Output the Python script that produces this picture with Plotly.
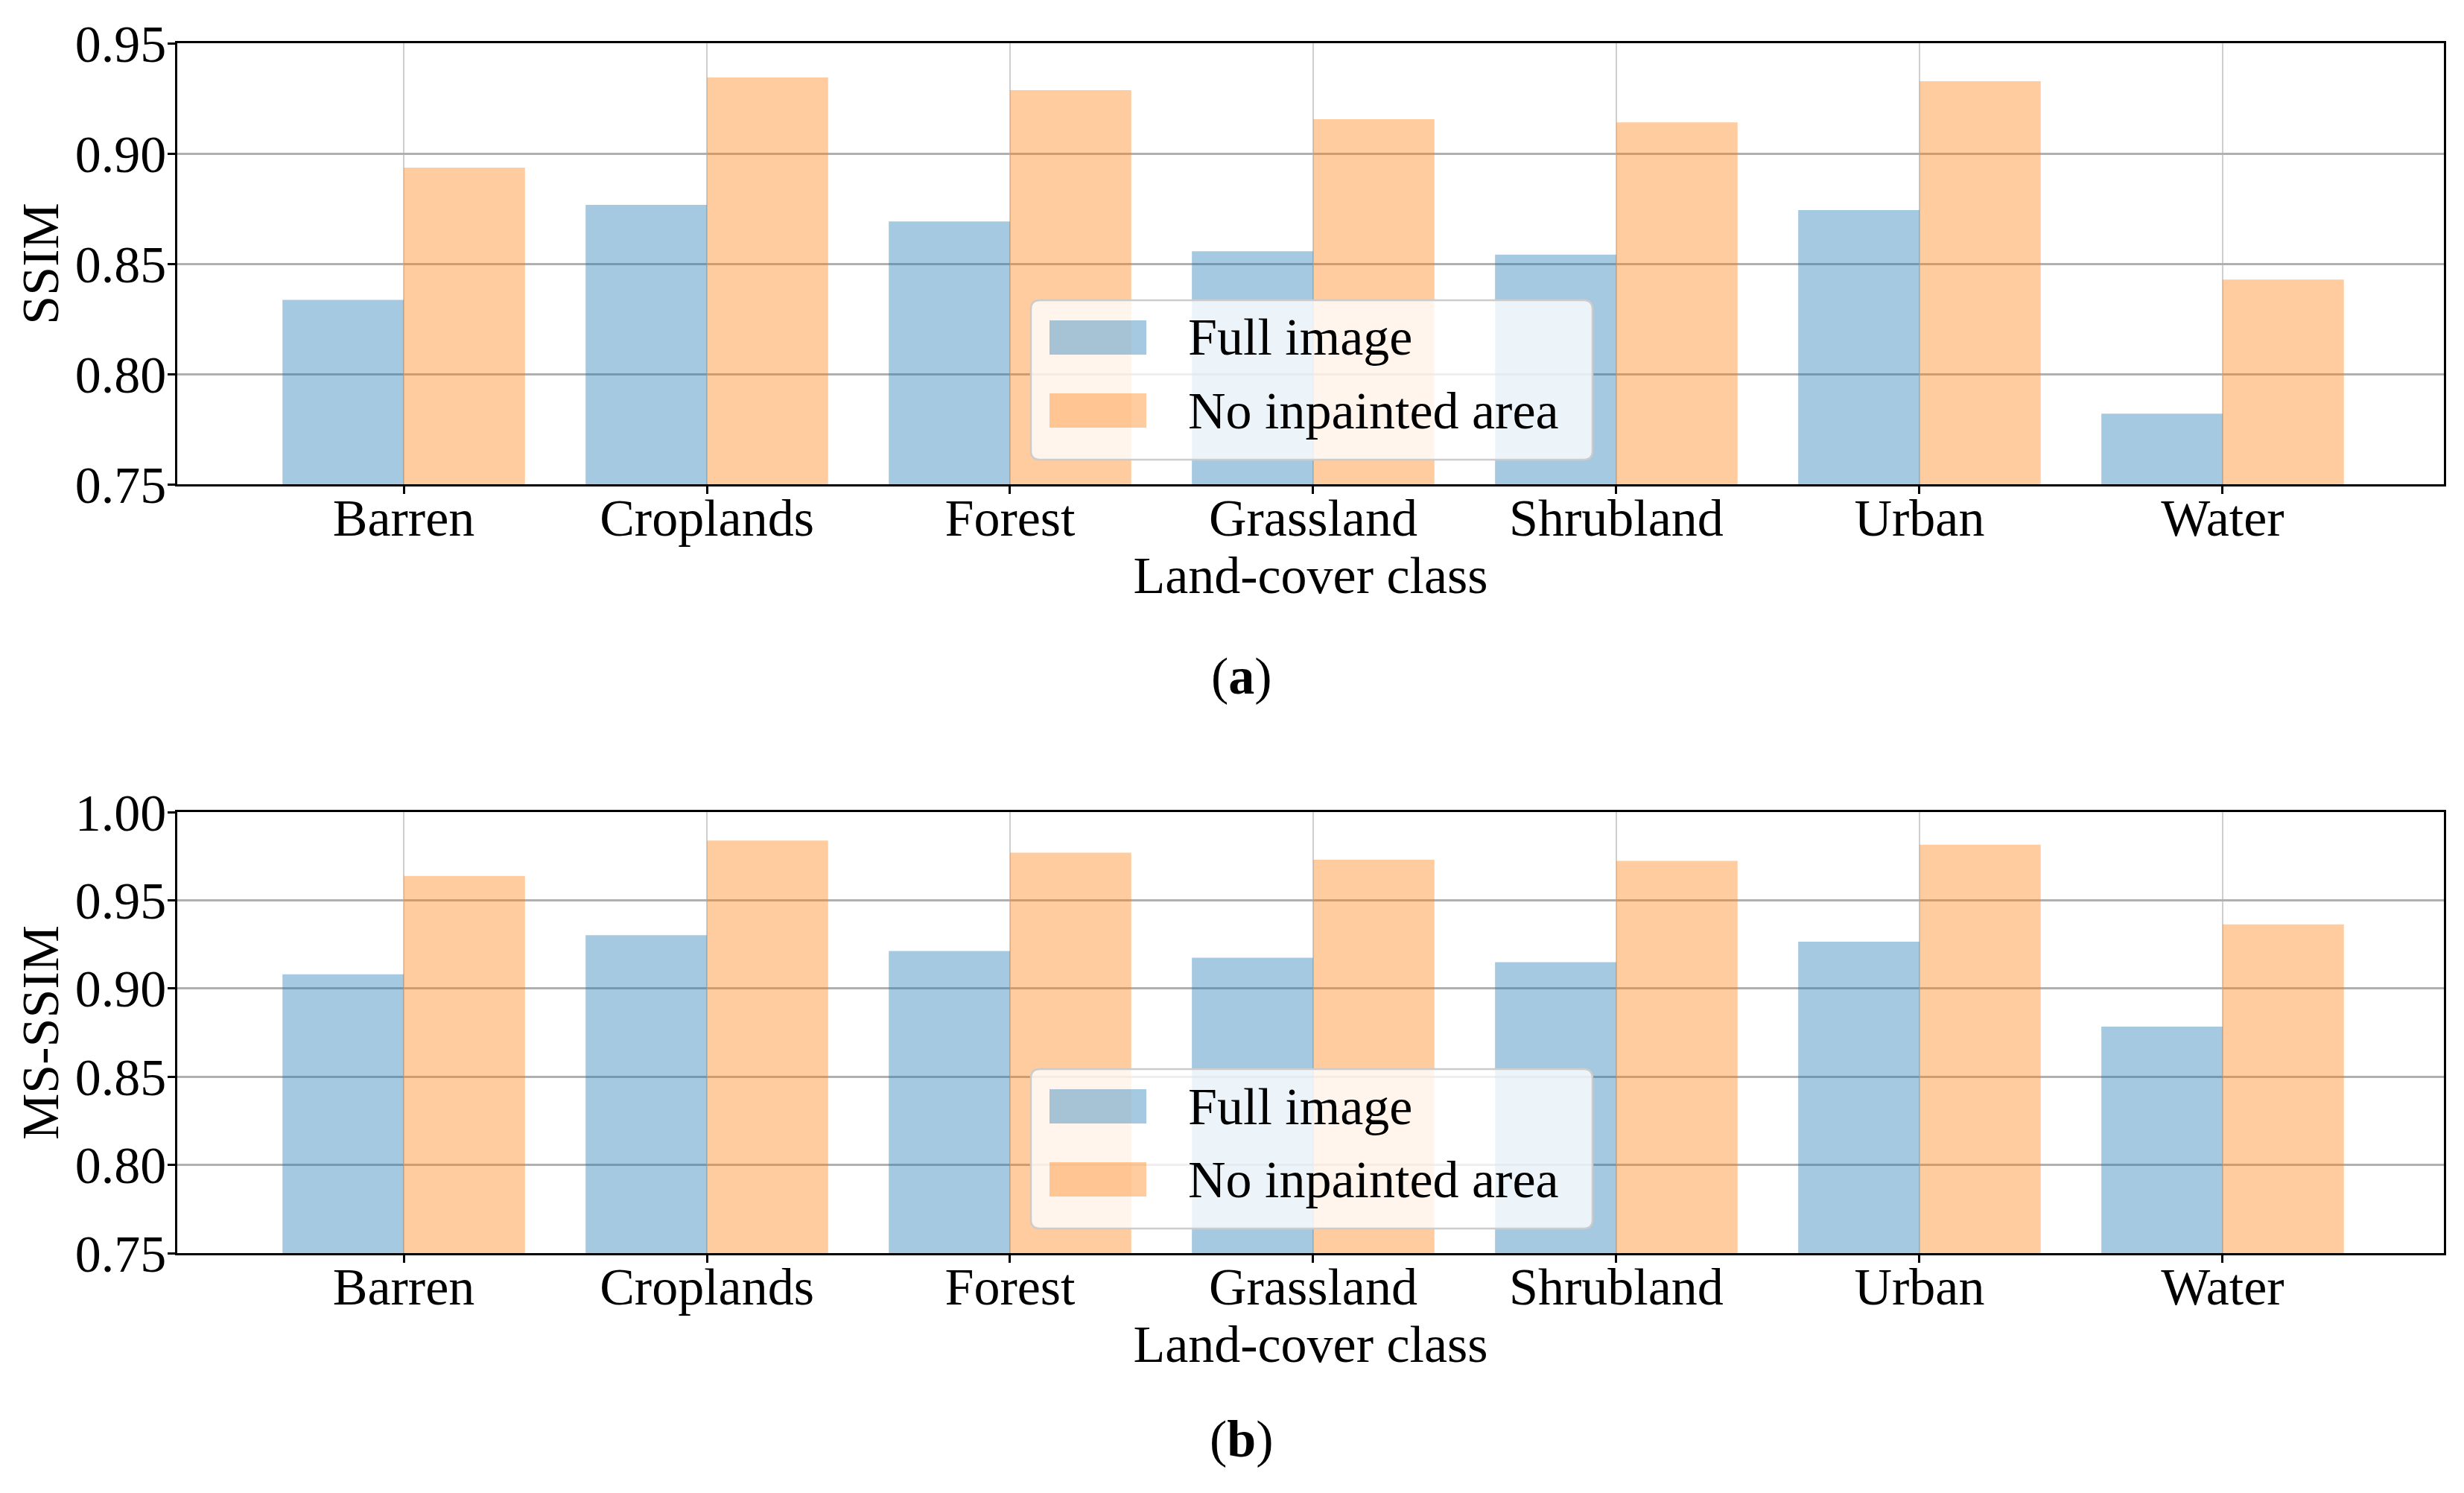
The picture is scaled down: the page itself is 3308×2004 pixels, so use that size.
import plotly.graph_objects as go

# ---------------- data ----------------
categories = ["Barren", "Croplands", "Forest", "Grassland", "Shrubland", "Urban", "Water"]
ssim_full = [0.8336, 0.8767, 0.8692, 0.8557, 0.8541, 0.8743, 0.7820]
ssim_noinp = [0.8936, 0.9345, 0.9287, 0.9155, 0.9141, 0.9328, 0.8428]
msssim_full = [0.9080, 0.9302, 0.9212, 0.9174, 0.9149, 0.9265, 0.8784]
msssim_noinp = [0.9638, 0.9838, 0.9770, 0.9730, 0.9723, 0.9815, 0.9363]
series_names = ["Full image", "No inpainted area"]
ssim_ticks = [0.75, 0.80, 0.85, 0.90, 0.95]
msssim_ticks = [0.75, 0.80, 0.85, 0.90, 0.95, 1.00]

# ---------------- style ----------------
W, H = 3308, 2004          # target canvas
PAD = 8                    # page body margin
FW, FH = W - 2 * PAD, H - 2 * PAD
FONT = "Liberation Serif"
FS = 70
BLUE = "#1f77b4"
ORANGE = "#ff7f0e"
ALPHA = 0.4


def px(x):
    return (x - PAD) / FW


def py(y):
    return 1 - (y - PAD) / FH


fig = go.Figure()

panels = [
    ("x", "y", ssim_full, ssim_noinp),
    ("x2", "y2", msssim_full, msssim_noinp),
]
for xa, ya, full, noinp in panels:
    fig.add_trace(go.Bar(x=categories, y=full, name=series_names[0], xaxis=xa, yaxis=ya,
                         marker=dict(color=BLUE, line=dict(width=0)), opacity=ALPHA,
                         showlegend=False))
    fig.add_trace(go.Bar(x=categories, y=noinp, name=series_names[1], xaxis=xa, yaxis=ya,
                         marker=dict(color=ORANGE, line=dict(width=0)), opacity=ALPHA,
                         showlegend=False))

x_dom = [px(238), px(3281)]
top_dom = [py(650), py(58)]
bot_dom = [py(1682), py(1090)]

common_x = dict(
    domain=x_dom, range=[-0.747, 6.73], showline=True, mirror=True, linecolor="black",
    linewidth=2.5, ticks="outside", ticklen=10, tickwidth=2.5, tickcolor="black",
    showgrid=True, gridcolor="#cfcfcf", gridwidth=2, zeroline=False, automargin=False,
    ticklabelstandoff=-28,
    tickfont=dict(family=FONT, size=FS, color="black"),
    title=dict(text="Land-cover class", font=dict(family=FONT, size=FS, color="black"), standoff=0),
)
common_y = dict(
    showline=True, mirror=True, linecolor="black", linewidth=2.5, ticks="outside",
    ticklen=10, tickwidth=2.5, tickcolor="black", showgrid=True, gridcolor="#b0b0b0",
    gridwidth=2.5, zeroline=False, automargin=False, tickformat=".2f",
    ticklabelstandoff=-12,
    tickfont=dict(family=FONT, size=FS, color="black"),
)

fig.update_layout(
    width=FW, height=FH, margin=dict(l=0, r=0, t=0, b=0),
    paper_bgcolor="white", plot_bgcolor="white",
    barmode="group", bargap=0.2, bargroupgap=0,
    font=dict(family=FONT, size=FS, color="black"),
    xaxis=dict(common_x, anchor="y"),
    xaxis2=dict(common_x, anchor="y2"),
    yaxis=dict(common_y, domain=top_dom, anchor="x", range=[0.75, 0.95], tickvals=ssim_ticks,
               title=dict(text="SSIM", font=dict(family=FONT, size=FS, color="black"), standoff=0)),
    yaxis2=dict(common_y, domain=bot_dom, anchor="x2", range=[0.75, 1.0], tickvals=msssim_ticks,
                title=dict(text="MS-SSIM", font=dict(family=FONT, size=FS, color="black"), standoff=0)),
)

# ---------------- manual legends (matplotlib-like) ----------------
shapes = []
annotations = []


def rounded_box(x0, y0, x1, y1, r):
    X0, X1 = px(x0), px(x1)
    Yt, Yb = py(y0), py(y1)
    rx, ry = r / FW, r / FH
    return (f"M{X0+rx},{Yt} L{X1-rx},{Yt} Q{X1},{Yt} {X1},{Yt-ry} "
            f"L{X1},{Yb+ry} Q{X1},{Yb} {X1-rx},{Yb} L{X0+rx},{Yb} "
            f"Q{X0},{Yb} {X0},{Yb+ry} L{X0},{Yt-ry} Q{X0},{Yt} {X0+rx},{Yt} Z")


for plot_top in (58, 1090):
    off = plot_top - 58
    shapes.append(dict(type="path", xref="paper", yref="paper",
                       path=rounded_box(1384, 403 + off, 2138, 617 + off, 12),
                       fillcolor="rgba(255,255,255,0.8)", line=dict(color="#cccccc", width=2.5),
                       layer="above"))
    for k, (col, y0) in enumerate([(BLUE, 430), (ORANGE, 528)]):
        shapes.append(dict(type="rect", xref="paper", yref="paper",
                           x0=px(1409), x1=px(1539), y0=py(y0 + off + 46), y1=py(y0 + off),
                           fillcolor=col, opacity=ALPHA, line=dict(width=0), layer="above"))
        annotations.append(dict(text=series_names[k], xref="paper", yref="paper",
                                x=px(1593), y=py(y0 + off + 23), xanchor="left", yanchor="middle",
                                showarrow=False, font=dict(family=FONT, size=FS, color="black")))

annotations.append(dict(text="(<b>a</b>)", xref="paper", yref="paper", x=px(1667), y=py(907),
                        xanchor="center", yanchor="middle", showarrow=False,
                        font=dict(family=FONT, size=FS, color="black")))
annotations.append(dict(text="(<b>b</b>)", xref="paper", yref="paper", x=px(1667), y=py(1931),
                        xanchor="center", yanchor="middle", showarrow=False,
                        font=dict(family=FONT, size=FS, color="black")))

fig.update_layout(shapes=shapes, annotations=annotations)

fig.write_html("out.html")
